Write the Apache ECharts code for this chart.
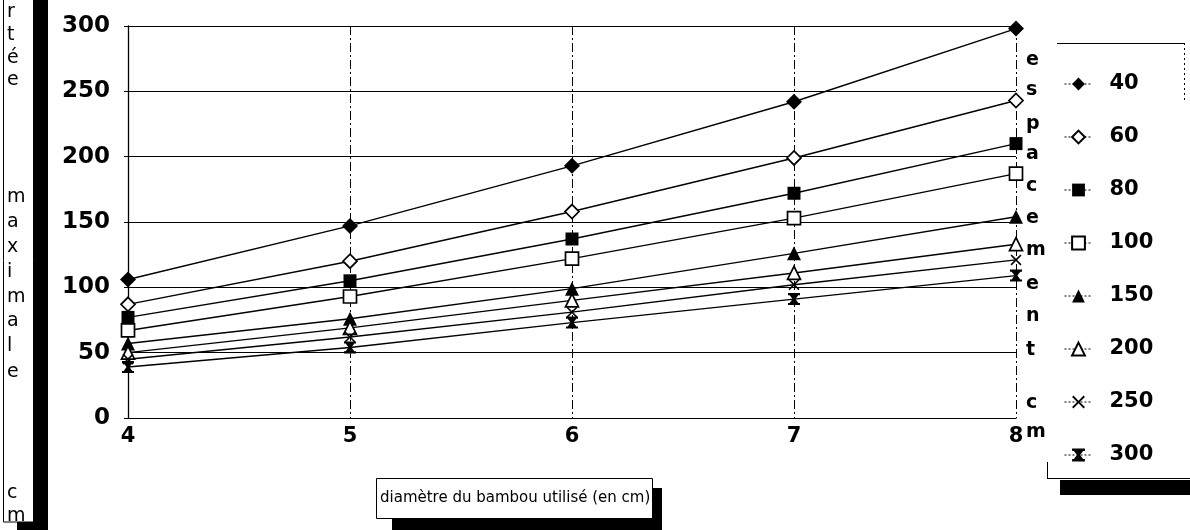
<!DOCTYPE html>
<html>
<head>
<meta charset="utf-8">
<script src="https://cdn.jsdelivr.net/npm/echarts@6/dist/echarts.min.js"></script>
<style>
html,body{margin:0;padding:0;background:#fff;}
#chart{width:1190px;height:530px;}
</style>
</head>
<body>
<div id="chart"></div>
<script>
// ---- data ----
const diameters = [4, 5, 6, 7, 8];
const spacingNames = ['40', '60', '80', '100', '150', '200', '250', '300'];
const s40  = [106, 147, 193, 242, 298];
const s60  = [87, 120, 158, 199, 243];
const s80  = [77, 105, 137, 172, 210];
const s100 = [67, 93, 122, 153, 187];
const s150 = [57, 76, 99, 126, 154];
const s200 = [50, 69, 90, 111, 133];
const s250 = [45, 62, 81, 102, 121];
const s300 = [39, 54, 73, 91, 109];
const yTicks = [0, 50, 100, 150, 200, 250, 300];
const yTitleText = 'rtée maximale cm';
const xTitleText = 'diamètre du bambou utilisé (en cm)';
const legendTitleText = 'espacement cm';

const seriesValues = [s40, s60, s80, s100, s150, s200, s250, s300];

const FONT = 'DejaVu Sans';
const pathX = 'path://M1,0 L5,4 L9,0 L10,1 L6,5 L10,9 L9,10 L5,6 L1,10 L0,9 L4,5 L0,1 Z';
const pathBoldX = 'path://M0,0 H10 V1.8 H8.6 L6.2,5 L8.6,8.2 H10 V10 H0 V8.2 H1.4 L3.8,5 L1.4,1.8 H0 Z';

const markerStyles = [
  {symbol: 'diamond', size: 16, fill: '#000'},
  {symbol: 'diamond', size: 14, fill: '#fff'},
  {symbol: 'rect', size: 13, fill: '#000'},
  {symbol: 'rect', size: 13, fill: '#fff'},
  {symbol: 'triangle', size: 14, fill: '#000'},
  {symbol: 'triangle', size: 13, fill: '#fff'},
  {symbol: pathX, size: 11, fill: '#000'},
  {symbol: pathBoldX, size: 12, fill: '#000'}
];

const series = spacingNames.map((name, i) => ({
  name: name,
  type: 'line',
  data: diameters.map((d, j) => [d, seriesValues[i][j]]),
  symbol: markerStyles[i].symbol,
  symbolSize: markerStyles[i].size,
  lineStyle: {color: '#000', width: 1.4},
  itemStyle: {color: markerStyles[i].fill, borderColor: '#000', borderWidth: markerStyles[i].fill === '#fff' ? 1.7 : 0},
  emphasis: {disabled: true},
  z: 3
}));

// vertical stacked texts
function stackedLetters(text, x, ys, weight, size) {
  const letters = text.replace(/ /g, '').split('');
  return letters.map((ch, k) => ({
    type: 'text',
    x: x,
    y: ys[k],
    z: 20,
    style: {text: ch, fontSize: size, fontFamily: FONT, fontWeight: weight, fill: '#000',
            textAlign: 'left', textVerticalAlign: 'middle', verticalAlign: 'middle'}
  }));
}

const yTitleYs = [12, 35, 58, 80, 197, 222, 247, 272, 297, 321, 346, 372, 493, 516];
const legTitleYs = [60, 90, 124, 154, 186, 218, 250, 284, 316, 350, 403, 432];

const graphics = [
  // y-title box with shadow
  {type: 'rect', shape: {x: 17, y: -10, width: 31, height: 550}, style: {fill: '#000'}, z: 10},
  {type: 'rect', shape: {x: 3.5, y: -10, width: 30, height: 532}, style: {fill: '#fff', stroke: '#000', lineWidth: 1}, z: 11},
  // x-title box with shadow
  {type: 'rect', shape: {x: 392, y: 488, width: 270, height: 50}, style: {fill: '#000'}, z: 10},
  {type: 'rect', shape: {x: 376.5, y: 478.5, width: 276, height: 40}, style: {fill: '#fff', stroke: '#000', lineWidth: 1}, z: 11},
  {type: 'text', x: 380, y: 498, z: 20, style: {text: xTitleText, fontSize: 15, fontFamily: FONT, fill: '#000', textVerticalAlign: 'middle', verticalAlign: 'middle'}},
  // legend frame
  {type: 'line', shape: {x1: 1057, y1: 43.5, x2: 1185, y2: 43.5}, style: {stroke: '#000', lineWidth: 1}, z: 10},
  {type: 'line', shape: {x1: 1184.5, y1: 43, x2: 1184.5, y2: 100}, style: {stroke: '#000', lineWidth: 1, lineDash: [2, 3]}, z: 10},
  {type: 'line', shape: {x1: 1047.5, y1: 462, x2: 1047.5, y2: 479}, style: {stroke: '#000', lineWidth: 1}, z: 10},
  {type: 'line', shape: {x1: 1047, y1: 478.5, x2: 1190, y2: 478.5}, style: {stroke: '#000', lineWidth: 1}, z: 10},
  {type: 'rect', shape: {x: 1060, y: 480, width: 130, height: 15}, style: {fill: '#000'}, z: 10}
].concat(
  stackedLetters(yTitleText, 7, yTitleYs, 'normal', 19),
  stackedLetters(legendTitleText, 1026, legTitleYs, 'bold', 19)
);

const chart = echarts.init(document.getElementById('chart'), null, {renderer: 'canvas'});
chart.setOption({
  animation: false,
  backgroundColor: '#fff',
  grid: {left: 128, right: 174, top: 26, bottom: 112, containLabel: false},
  xAxis: {
    type: 'value',
    min: 4, max: 8, interval: 1,
    axisLine: {show: true, lineStyle: {color: '#000', width: 1}},
    axisTick: {show: false},
    axisLabel: {color: '#000', fontFamily: FONT, fontSize: 21, fontWeight: 'bold', margin: 8},
    splitLine: {show: true, lineStyle: {color: '#000', width: 1, type: [9, 3, 2, 3]}}
  },
  yAxis: {
    type: 'value',
    min: 0, max: 300, interval: 50,
    axisLine: {show: true, lineStyle: {color: '#000', width: 1.3}},
    axisTick: {show: true, inside: false, length: 4, lineStyle: {color: '#000'}},
    axisLabel: {color: '#000', fontFamily: FONT, fontSize: 23, fontWeight: 'bold', margin: 18,
      formatter: v => yTicks.includes(v) ? String(v) : ''},
    splitLine: {show: true, lineStyle: {color: '#000', width: 1}}
  },
  legend: {
    orient: 'vertical',
    left: 1059,
    top: 66,
    itemWidth: 28,
    itemHeight: 16,
    itemGap: 27,
    lineStyle: {color: '#000', width: 1, type: [2, 2]},
    textStyle: {color: '#000', fontFamily: FONT, fontSize: 21, fontWeight: 'bold', lineHeight: 26, padding: [0, 0, 0, 12]},
    data: spacingNames,
    selectedMode: false
  },
  graphic: graphics,
  series: series
});
</script>
</body>
</html>
